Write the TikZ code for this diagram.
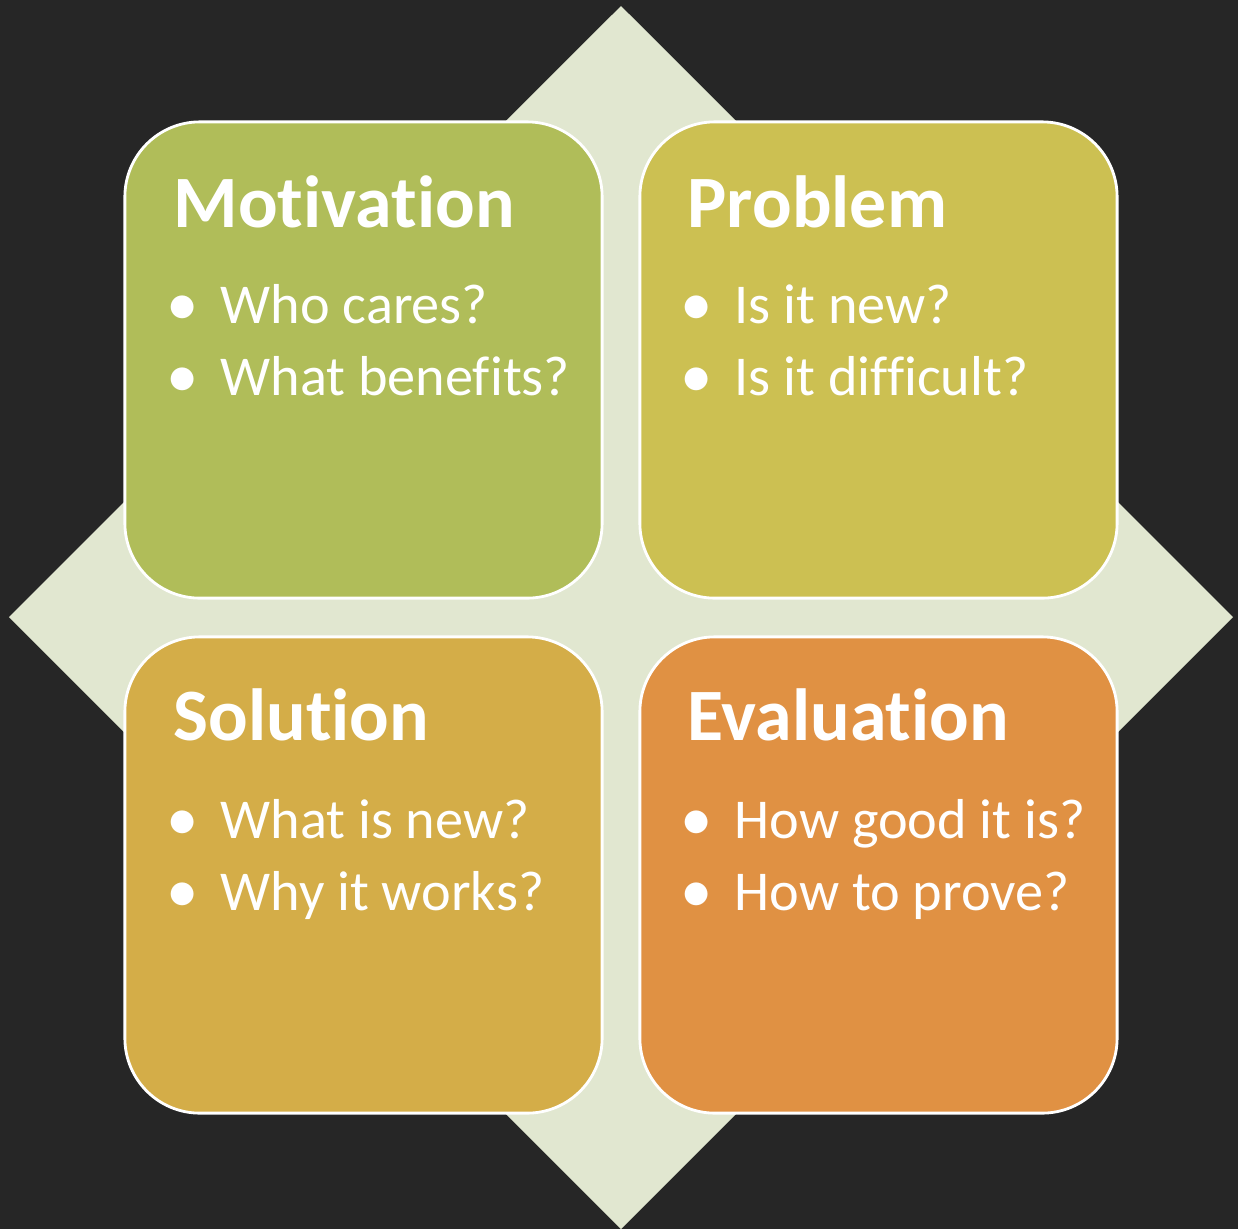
\documentclass[tikz,border=0pt]{standalone}
\usepackage{fontspec}
\setmainfont{Carlito}[Ligatures=NoCommon]
\usetikzlibrary{positioning}

\definecolor{board}{RGB}{38,38,38}
\definecolor{rhomb}{RGB}{225,231,208}
\definecolor{motivc}{RGB}{176,189,89}
\definecolor{problc}{RGB}{204,192,82}
\definecolor{soluc}{RGB}{212,173,72}
\definecolor{evalc}{RGB}{224,145,67}

\newcommand{\blt}{\makebox[0.47cm][l]{\kern-2pt\raisebox{-0.6pt}{\scalebox{1.15}{\textbullet}}}}

\begin{document}
\begin{tikzpicture}[
    x=0.01cm, y=-0.01cm,
    card/.style={rectangle, draw=white, line width=0.8pt, rounded corners=0.75cm, minimum width=4.77cm, minimum height=4.76cm, inner sep=0pt},
    head/.style={anchor=base west, inner sep=0pt, text=white, font=\fontsize{21}{25}\selectfont\bfseries},
    item/.style={anchor=base west, inner sep=0pt, text=white, font=\fontsize{16}{20}\selectfont}
]

% Background
\fill[board] (0,0) rectangle (1238,1229);

% Diamond behind the cards
\fill[rhomb] (621,6) -- (1233,617) -- (621,1229) -- (9,617) -- cycle;

% Motivation card
\node[card, fill=motivc] (motivation) at (363.5,360) {};
\node[head] (motivation-head) at (173,227) {Motivation};
\node[item] (motivation-a) at (173,323) {\blt Who cares?};
\node[item] (motivation-b) at (173,395) {\blt What benefits?};

% Problem card
\node[card, fill=problc] (problem) at (878.5,360) {};
\node[head] (problem-head) at (687,227) {Problem};
\node[item] (problem-a) at (687,323) {\blt Is it new?};
\node[item] (problem-b) at (687,395) {\blt Is it difficult?};

% Solution card
\node[card, fill=soluc] (solution) at (363.5,875) {};
\node[head] (solution-head) at (173,740) {Solution};
\node[item] (solution-a) at (173,838) {\blt What is new?};
\node[item] (solution-b) at (173,910) {\blt Why it works?};

% Evaluation card
\node[card, fill=evalc] (evaluation) at (878.5,875) {};
\node[head] (evaluation-head) at (687,740) {Evaluation};
\node[item] (evaluation-a) at (687,838) {\blt How good it is?};
\node[item] (evaluation-b) at (687,910) {\blt How to prove?};

\end{tikzpicture}
\end{document}
